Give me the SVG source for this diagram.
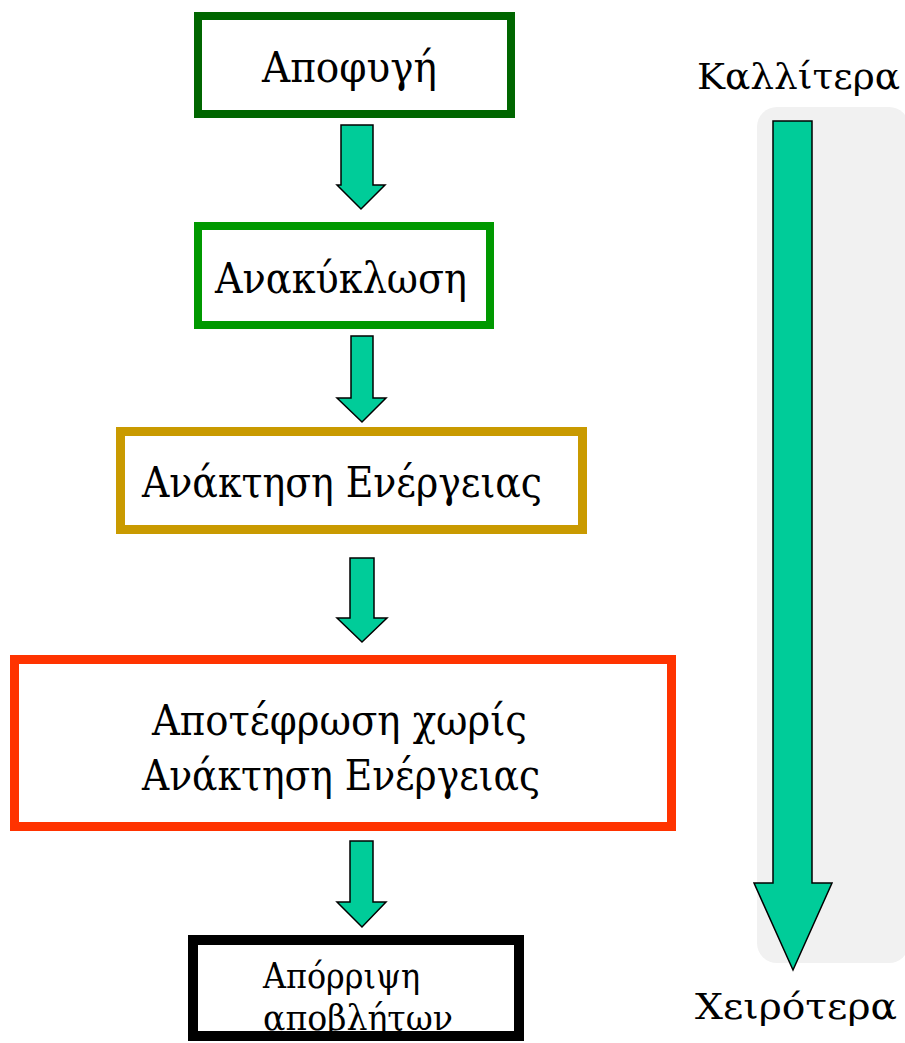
<svg xmlns="http://www.w3.org/2000/svg" width="905" height="1043" viewBox="0 0 905 1043">
<style>
.box{fill:#ffffff}
.t{font-family:"DejaVu Serif","Liberation Serif",serif;font-size:42px;fill:#000000}
.s{font-size:36px}
.l{font-size:35px}
.arr{fill:#00CC99;stroke:#000000;stroke-width:1.5;stroke-linejoin:miter}
</style>
<rect x="0" y="0" width="905" height="1043" fill="#ffffff"/>
<rect id="scale-bg" x="757" y="107" width="152" height="856" rx="20" fill="#f1f1f1"/>
<g id="connectors">
<polygon class="arr" points="341,125 373,125 373,185 385,185 361,209 337,185 341,185"/>
<polygon class="arr" points="351,336 373,336 373,398 386,398 362,422 337,398 351,398"/>
<polygon class="arr" points="350,558 374,558 374,618 387,618 362,642 337,618 350,618"/>
<polygon class="arr" points="350,841 373,841 373,902 386,902 362,927 337,902 350,902"/>
<polygon id="scale-arrow" class="arr" points="773,121 812,121 812,883 832,883 793,970 754,883 773,883"/>
</g>
<g id="n1">
<rect class="box" x="198" y="16" width="313" height="98" stroke="#006600" stroke-width="8"/>
<text class="t" x="262" y="82" textLength="175" lengthAdjust="spacingAndGlyphs">Αποφυγή</text>
</g>
<g id="n2">
<rect class="box" x="198" y="226" width="292" height="99" stroke="#009900" stroke-width="8"/>
<text class="t" x="215" y="293" textLength="252" lengthAdjust="spacingAndGlyphs">Ανακύκλωση</text>
</g>
<g id="n3">
<rect class="box" x="120.5" y="431.5" width="462" height="98" stroke="#C99A00" stroke-width="9"/>
<text class="t" x="142" y="497" textLength="400" lengthAdjust="spacingAndGlyphs">Ανάκτηση Ενέργειας</text>
</g>
<g id="n4">
<rect class="box" x="14.5" y="659.5" width="657" height="167" stroke="#FF3300" stroke-width="9"/>
<text class="t" x="152" y="735" textLength="375" lengthAdjust="spacingAndGlyphs">Αποτέφρωση χωρίς</text>
<text class="t" x="142" y="790" textLength="398" lengthAdjust="spacingAndGlyphs">Ανάκτηση Ενέργειας</text>
</g>
<g id="n5">
<rect class="box" x="193" y="940" width="326" height="96" stroke="#000000" stroke-width="10"/>
<text class="t s" x="263" y="988" textLength="157" lengthAdjust="spacingAndGlyphs">Απόρριψη</text>
<text class="t s" x="263" y="1030" textLength="190" lengthAdjust="spacingAndGlyphs">αποβλήτων</text>
</g>
<g id="labels">
<text class="t l" x="697" y="89" textLength="203" lengthAdjust="spacingAndGlyphs">Καλλίτερα</text>
<text class="t l" x="695" y="1019" textLength="202" lengthAdjust="spacingAndGlyphs">Χειρότερα</text>
</g>
</svg>
